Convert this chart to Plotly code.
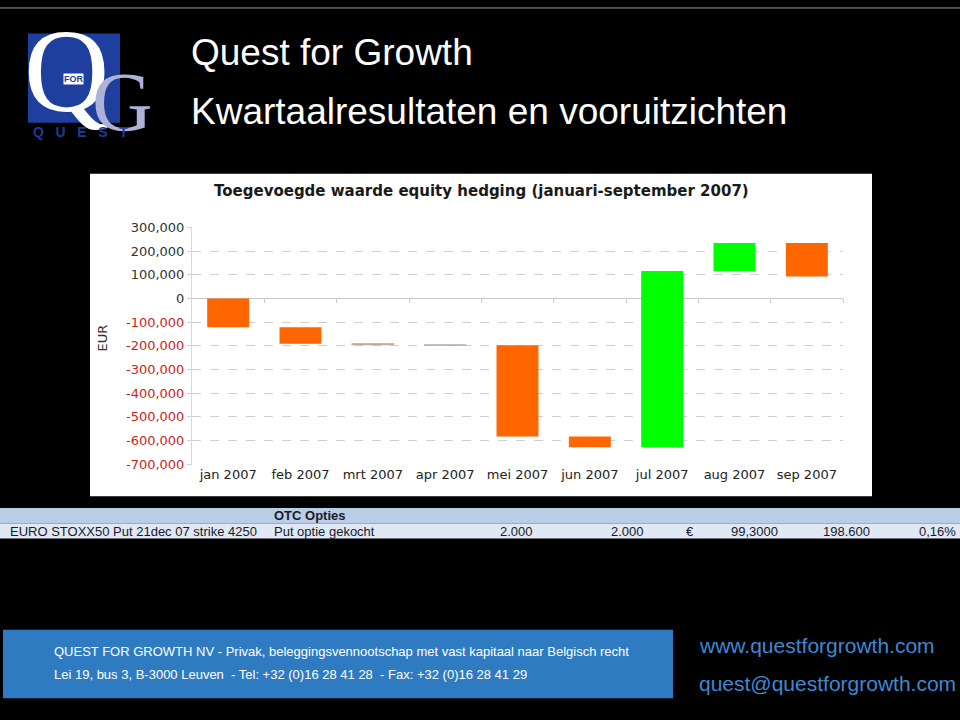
import numpy as np
import plotly.graph_objects as go

# ---------------- data ----------------
months = ["jan 2007", "feb 2007", "mrt 2007", "apr 2007", "mei 2007",
          "jun 2007", "jul 2007", "aug 2007", "sep 2007"]
monthly_change = [-122000, -69000, -5000, -2000, -385000,
                  -45000, 744000, 118000, -141000]
y_tick_values = [300000, 200000, 100000, 0, -100000, -200000, -300000,
                 -400000, -500000, -600000, -700000]
chart_title = "Toegevoegde waarde equity hedging (januari-september 2007)"
y_title = "EUR"
slide_title_1 = "Quest for Growth"
slide_title_2 = "Kwartaalresultaten en vooruitzichten"
table_header = "OTC Opties"
table_row = ["EURO STOXX50 Put 21dec 07 strike 4250", "Put optie gekocht",
             "2.000", "2.000", "€", "99,3000", "198.600", "0,16%"]
footer_line_1 = "QUEST FOR GROWTH NV - Privak, beleggingsvennootschap met vast kapitaal naar Belgisch recht"
footer_line_2 = "Lei 19, bus 3, B-3000 Leuven  - Tel: +32 (0)16 28 41 28  - Fax: +32 (0)16 28 41 29"
footer_web = "www.questforgrowth.com"
footer_mail = "quest@questforgrowth.com"

# ---------------- helpers ----------------
W, H = 960, 720
def px(x):
    return x / W
def py(y):
    return 1 - y / H

ORANGE = "#FF6600"
GREEN = "#00FF00"

delta = np.array(monthly_change, dtype=float)
cum = np.cumsum(delta)
base = np.concatenate([[0.0], cum[:-1]])
bar_colors = [GREEN if d > 0 else ORANGE for d in delta]
line_colors = ["#b5b5b5" if abs(d) < 10000 else c for d, c in zip(delta, bar_colors)]
line_widths = [1 if abs(d) < 10000 else 0 for d in delta]

yr = [-703000, 303000]
ydom = [py(467), py(224)]
xdom = [px(192), px(843)]
zero_pos = ydom[0] + (0 - yr[0]) / (yr[1] - yr[0]) * (ydom[1] - ydom[0])

def fmt(v):
    s = f"{abs(v):,}"
    if v < 0:
        return f"<span style='color:#cc1f1f'>-{s}</span>"
    return s

fig = go.Figure()
fig.add_trace(go.Bar(
    x=months, y=delta, base=base,
    marker=dict(color=bar_colors, line=dict(color=line_colors, width=line_widths)),
    showlegend=False, hoverinfo="skip",
))
# helper trace for the boundary tick axis at zero
fig.add_trace(go.Scatter(x=list(range(len(months))), y=[None] * len(months),
                         xaxis="x2", yaxis="y", showlegend=False, hoverinfo="skip"))

shapes = []
# top thin border
shapes.append(dict(type="line", xref="paper", yref="paper", x0=0, x1=1,
                   y0=py(1), y1=py(1), line=dict(color="#9a9a9a", width=1), layer="below"))
# white chart panel
shapes.append(dict(type="rect", xref="paper", yref="paper", x0=px(90), x1=px(872),
                   y0=py(499), y1=py(170), fillcolor="white", line=dict(width=0), layer="below"))
# logo blue square
shapes.append(dict(type="rect", xref="paper", yref="paper", x0=px(28), x1=px(120),
                   y0=py(118), y1=py(27), fillcolor="#1f3f9e", line=dict(width=0), layer="below"))
# table bands
shapes.append(dict(type="rect", xref="paper", yref="paper", x0=0, x1=1,
                   y0=py(527), y1=py(511), fillcolor="#b8cde6", line=dict(width=0), layer="below"))
shapes.append(dict(type="rect", xref="paper", yref="paper", x0=0, x1=1,
                   y0=py(542), y1=py(527), fillcolor="#dfe8f3", line=dict(width=0), layer="below"))
# footer blue box
shapes.append(dict(type="rect", xref="paper", yref="paper", x0=px(3), x1=px(673),
                   y0=py(705), y1=py(635), fillcolor="#2f7bc2", line=dict(width=0), layer="below"))

ann = []
def A(text, x, y, size, color, family="Liberation Sans", xanchor="center",
      yanchor="middle", angle=0, bold=False, bgcolor=None):
    d = dict(text=f"<b>{text}</b>" if bold else text, x=px(x), y=py(y),
             xref="paper", yref="paper", showarrow=False,
             xanchor=xanchor, yanchor=yanchor, textangle=angle,
             font=dict(size=size, color=color, family=family))
    if bgcolor:
        d.update(bgcolor=bgcolor, borderpad=0)
    ann.append(d)

# logo
A("Q", 66, 66, 118, "white", family="Liberation Serif")
A("G", 123, 97, 84, "#aeb1d8", family="Liberation Serif")
A("FOR", 73, 73, 9, "#1f3f9e", family="Liberation Sans", bold=True, bgcolor="white")
A("Q&nbsp;&nbsp;&nbsp;U&nbsp;&nbsp;&nbsp;E&nbsp;&nbsp;&nbsp;S&nbsp;&nbsp;&nbsp;T",
  80, 127, 14, "#1f3a94", family="Liberation Sans", bold=True)

# slide titles
A(slide_title_1, 189, 46, 37, "white", xanchor="left")
A(slide_title_2, 189, 107, 37, "white", xanchor="left")

# chart title and y-axis title
A(chart_title, 481, 188, 15, "#1a1a1a", family="DejaVu Sans", bold=True)
A(y_title, 102, 338, 13, "#333333", family="DejaVu Sans", angle=-90)

# table
tf = "Liberation Sans"
A(table_header, 272, 519, 13, "#1a1a2a", family=tf, xanchor="left", bold=True)
A(table_row[0], 8, 535, 13, "#1a1a2a", family=tf, xanchor="left")
A(table_row[1], 272, 535, 13, "#1a1a2a", family=tf, xanchor="left")
A(table_row[2], 535, 535, 13, "#1a1a2a", family=tf, xanchor="right")
A(table_row[3], 646, 535, 13, "#1a1a2a", family=tf, xanchor="right")
A(table_row[4], 690, 535, 13, "#1a1a2a", family=tf)
A(table_row[5], 780, 535, 13, "#1a1a2a", family=tf, xanchor="right")
A(table_row[6], 872, 535, 13, "#1a1a2a", family=tf, xanchor="right")
A(table_row[7], 958, 535, 13, "#1a1a2a", family=tf, xanchor="right")

# footer
A(footer_line_1, 52, 657, 13, "white", family=tf, xanchor="left")
A(footer_line_2, 52, 681, 13, "white", family=tf, xanchor="left")
A(footer_web, 697, 651, 21, "#3f88d2", family=tf, xanchor="left")
A(footer_mail, 697, 690, 21, "#3f88d2", family=tf, xanchor="left")

fig.update_layout(
    width=W, height=H,
    margin=dict(l=0, r=0, t=0, b=0),
    paper_bgcolor="black", plot_bgcolor="white",
    bargap=0.42,
    shapes=shapes, annotations=ann,
    xaxis=dict(domain=xdom, type="category", showgrid=False, showline=False,
               ticks="", tickfont=dict(family="DejaVu Sans", size=13, color="#222222"),
               zeroline=False),
    xaxis2=dict(domain=xdom, overlaying="x", anchor="free", position=zero_pos,
                range=[-0.5, len(months) - 0.5], tickvals=[i + 0.5 for i in range(len(months))],
                showticklabels=False, ticks="outside", ticklen=4, tickcolor="#c8c8c8",
                showgrid=False, showline=False, zeroline=False),
    yaxis=dict(domain=ydom, range=yr, tickvals=y_tick_values,
               ticktext=[fmt(v) for v in y_tick_values],
               tickfont=dict(family="DejaVu Sans", size=13, color="#333333"),
               showgrid=True, gridcolor="#cfcfcf", griddash="dash", gridwidth=1,
               zeroline=True, zerolinecolor="#c8c8c8", zerolinewidth=1,
               showline=True, linecolor="#d8d8d8", linewidth=1,
               ticks="outside", ticklen=4, tickcolor="#d0d0d0"),
)

fig.write_html("out.html",
               post_script="document.body.style.margin='0';document.body.style.background='black';")
